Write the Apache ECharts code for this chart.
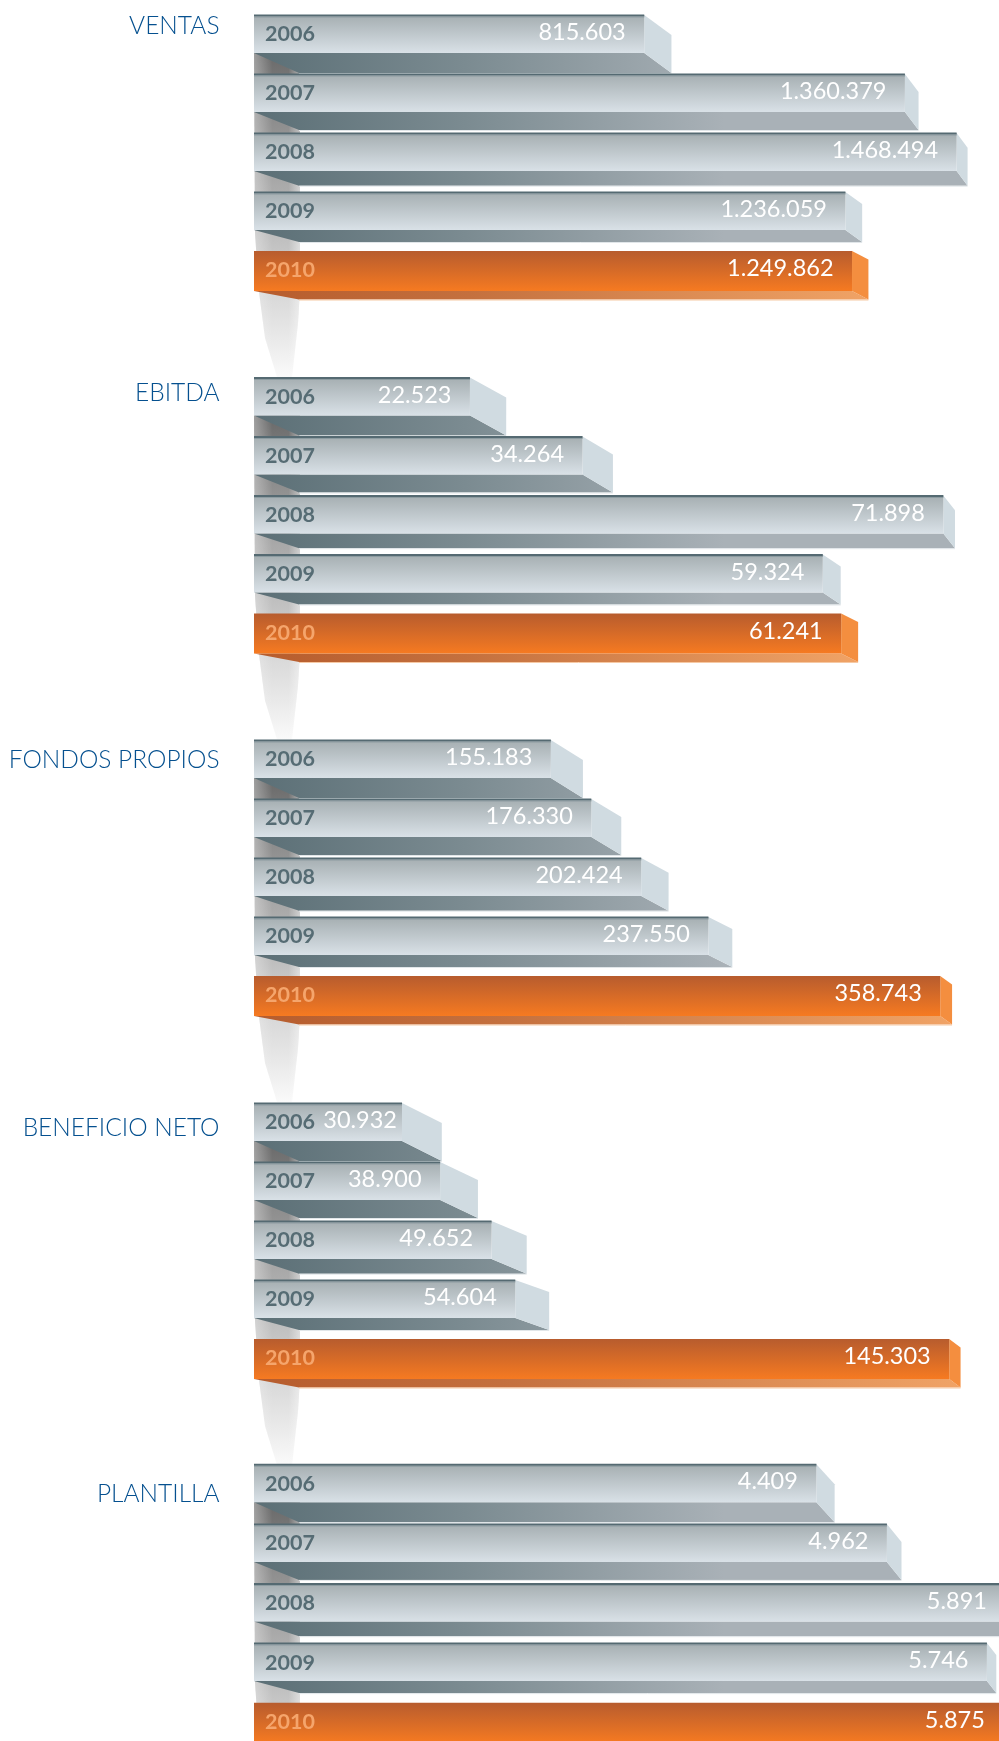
<!DOCTYPE html>
<html><head><meta charset="utf-8">
<script src="https://cdn.jsdelivr.net/npm/echarts@6/dist/echarts.min.js"></script>
<style>html,body{margin:0;padding:0;background:#fff}#c{width:999px;height:1741px}</style>
</head><body><div id="c"></div>
<script>
const years = ['2006','2007','2008','2009','2010'];
const titles = ['VENTAS','EBITDA','FONDOS PROPIOS','BENEFICIO NETO','PLANTILLA'];
const ventas = [815603,1360379,1468494,1236059,1249862];
const ebitda = [22523,34264,71898,59324,61241];
const fondos = [155183,176330,202424,237550,358743];
const beneficio = [30932,38900,49652,54604,145303];
const plantilla = [4409,4962,5891,5746,5875];
const groups = [ventas,ebitda,fondos,beneficio,plantilla];
const axisMax = [1672000,83440,418200,167200,6272];
const gridTops = [5,367.5,730,1093,1454];
const gridHeights = [295,295,295,295,298];
const titleCenters = [25.5,393,760,1128,1494];
const floorDepth = [20,18,14.7,12,8.5];

const fmt = v => String(v).replace(/\B(?=(\d{3})+$)/g,'.');
const FONT = 'Lato, "Open Sans", sans-serif';

function barItem(params, api){
  const i = api.value(1), v = api.value(0);
  const c = api.coord([v,i]), l = api.coord([0,i]);
  const hot = i === 4;
  const h = hot ? 40 : 38;
  const top = c[1]-19.5, bot = top+h, x0 = l[0], x1 = c[0];
  const dy = floorDepth[i], dx = 47.5-0.052*(x1-x0);
  const kids = [];
  kids.push({type:'polygon',shape:{points:[[x0,bot],[x1,bot],[x1+dx,bot+dy],[x0+45,bot+dy]]},
    style:{fill: hot
      ? {type:'linear',x:0,y:0,x2:1,y2:0,colorStops:[{offset:0,color:'#b65c2d'},{offset:.35,color:'#c4703e'},{offset:1,color:'#f0a366'}]}
      : {type:'linear',x:x0,y:0,x2:x0+470,y2:0,global:true,colorStops:[{offset:0,color:'#5b6f76'},{offset:.45,color:'#7b8b91'},{offset:1,color:'#a9b1b7'}]}}});
  kids.push({type:'line',shape:{x1:x0+45,y1:bot+dy+.5,x2:x1+dx,y2:bot+dy+.5},
    style:{stroke:hot?'#f6c9a4':'#e1e6e9',lineWidth:1}});
  kids.push({type:'polygon',shape:{points:[[x1,top],[x1+dx,top+dy],[x1+dx,bot+dy],[x1,bot]]},
    style:{fill:hot?'#f48e3f':'#d0dbe1'}});
  kids.push({type:'rect',shape:{x:x0,y:top,width:x1-x0,height:h},
    style:{fill:{type:'linear',x:0,y:0,x2:0,y2:1,colorStops:hot
      ? [{offset:0,color:'#b75c2e'},{offset:1,color:'#f67a21'}]
      : [{offset:0,color:'#a5aeb1'},{offset:1,color:'#d9e1e7'}]}}});
  if(!hot){
    kids.push({type:'rect',shape:{x:x0,y:top-.5,width:x1-x0,height:2},style:{fill:'#556a72'}});
    kids.push({type:'rect',shape:{x:x0,y:top+1.5,width:x1-x0,height:1},style:{fill:'#8d9ca1'}});
  }
  kids.push({type:'text',style:{text:fmt(v),x:Math.max(x1-18.5,x0+143),y:c[1]-2,align:'right',verticalAlign:'middle',
    fill:'#ffffff',font:'400 23.5px '+FONT}});
  return {type:'group',children:kids};
}
function shadowItem(params, api){
  const c = api.coord([0,0]);
  const x = c[0], y = c[1]-19.5+38, end = y+324;
  const pts = [[x,y],[x+46,y],[x+46,y+237],[x+44,y+270],[x+38,end],[x+23,end],[x+11,y+285],[x+5,y+239],[x+1,y+180]];
  return {type:'group',children:[
    {type:'polygon',shape:{points:pts},style:{fill:{type:'linear',x:0,y:y,x2:0,y2:end,global:true,colorStops:[
      {offset:0,color:'#696969'},{offset:.2,color:'#8c8c8c'},{offset:.38,color:'#a6a6a6'},{offset:.55,color:'#bcbcbc'},
      {offset:.72,color:'#d5d5d5'},{offset:.88,color:'#e9e9e9'},{offset:1,color:'#fafafa'}]}}},
    {type:'polygon',shape:{points:pts},style:{fill:{type:'linear',x:x,y:0,x2:x+46,y2:0,global:true,colorStops:[
      {offset:0,color:'rgba(255,255,255,.35)'},{offset:.4,color:'rgba(255,255,255,0)'},{offset:.75,color:'rgba(255,255,255,0)'},{offset:1,color:'rgba(255,255,255,.45)'}]}}}
  ]};
}
const option = {
  backgroundColor:'#fff', animation:false,
  title: titles.map((t,i)=>({text:t,left:214.5,top:titleCenters[i]-19.5,textAlign:'right',
    textStyle:{color:'#05508f',fontFamily:FONT,fontWeight:300,fontSize:24.5,lineHeight:30}})),
  grid: groups.map((g,i)=>({left:254,width:800,top:gridTops[i],height:gridHeights[i],outerBoundsMode:'none'})),
  xAxis: groups.map((g,i)=>({type:'value',gridIndex:i,min:0,max:axisMax[i],show:false})),
  yAxis: groups.map((g,i)=>({type:'category',gridIndex:i,data:years,inverse:true,z:10,
    axisLine:{show:false},axisTick:{show:false},
    axisLabel:{inside:true,margin:11,fontFamily:FONT,fontSize:21.5,fontWeight:700,
      color:v=>v==='2010'?'#f5a56c':'#566c74'}})),
  series: groups.flatMap((g,i)=>[
    {type:'custom',xAxisIndex:i,yAxisIndex:i,z:1,silent:true,data:[[0,0]],renderItem:shadowItem},
    {type:'custom',xAxisIndex:i,yAxisIndex:i,z:2,silent:true,data:g.map((v,k)=>[v,k]),encode:{x:0,y:1},renderItem:barItem}
  ])
};
echarts.init(document.getElementById('c'),null,{renderer:'canvas'}).setOption(option);
</script></body></html>
